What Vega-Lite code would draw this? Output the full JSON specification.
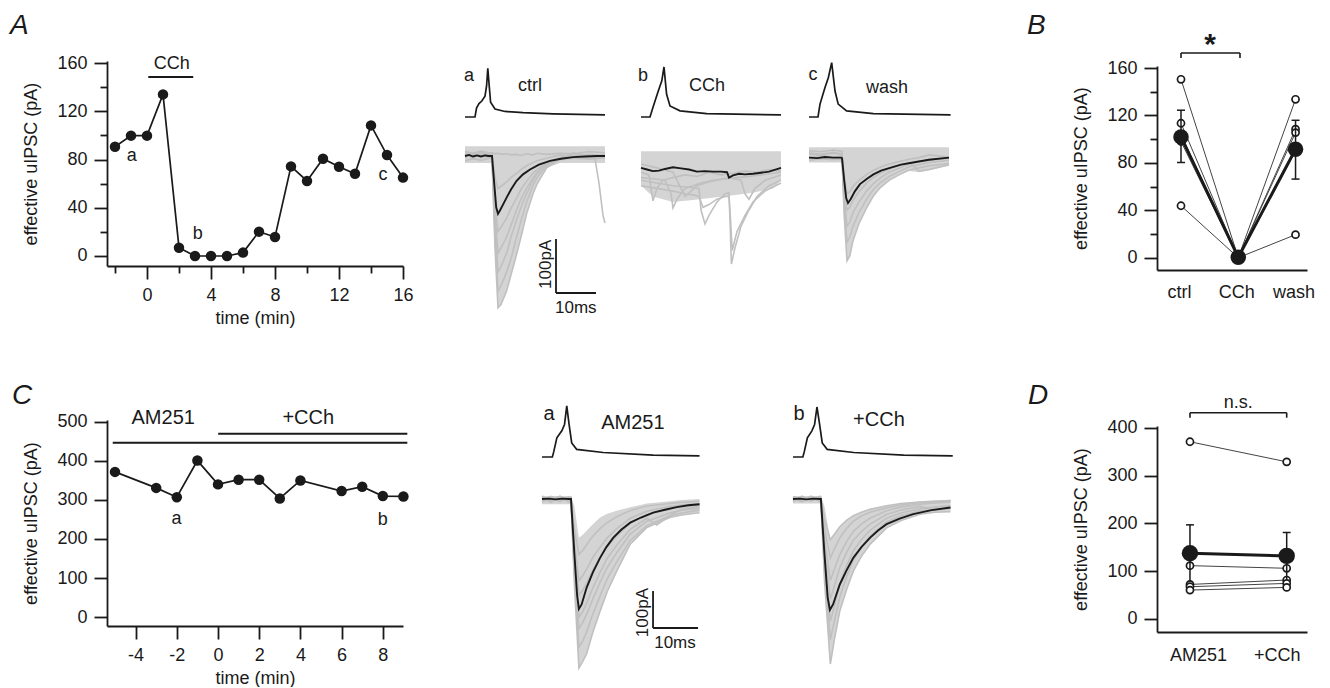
{
"$schema": "https://vega.github.io/schema/vega-lite/v6.json",
"padding": {"left": 10, "top": 11, "right": 0, "bottom": 0},
"background": "white",
"config": {
 "view": {"stroke": null},
 "font": "Liberation Sans",
 "axis": {"grid": false, "domainColor": "#1a1a1a", "domainWidth": 1.8, "tickColor": "#1a1a1a", "tickWidth": 1.8, "tickSize": 13, "labelFontSize": 18, "labelColor": "#1a1a1a", "labelPadding": 7, "labelFlush": false, "labelOverlap": false, "labelBound": false, "titleFontSize": 18, "titleFontWeight": "normal", "titleColor": "#1a1a1a", "labelFont": "Liberation Sans", "titleFont": "Liberation Sans"},
 "axisY": {"titlePadding": 16},
 "axisX": {"titlePadding": 5},
 "text": {"font": "Liberation Sans", "color": "#1a1a1a"}
},
"datasets": {
 "ta": [{"x":-2,"y":90.6},{"x":-1,"y":99.8},{"x":0,"y":99.8},{"x":1,"y":134},{"x":2,"y":6.9},{"x":3,"y":0},{"x":4,"y":0},{"x":5,"y":0},{"x":6,"y":2.8},{"x":7,"y":20.2},{"x":8,"y":15.8},{"x":9,"y":74.3},{"x":10,"y":62.2},{"x":11,"y":80.7},{"x":12,"y":74},{"x":13,"y":68.2},{"x":14,"y":108.3},{"x":15,"y":83.7},{"x":16,"y":65}],
 "tc": [{"x":-5,"y":372},{"x":-3,"y":331},{"x":-2,"y":307},{"x":-1,"y":401},{"x":0,"y":340},{"x":1,"y":352},{"x":2,"y":352},{"x":3,"y":304},{"x":4,"y":350},{"x":6,"y":323},{"x":7,"y":334},{"x":8,"y":310},{"x":9,"y":309}],
 "apA": [{"x":0,"y":-60},{"x":2.5,"y":-60},{"x":2.9,"y":-45},{"x":3.5,"y":-38},{"x":4.2,"y":-34},{"x":5.0,"y":-26},{"x":5.4,"y":-9},{"x":5.7,"y":19.5},{"x":6.0,"y":-5},{"x":6.4,"y":-36},{"x":7.5,"y":-47},{"x":10,"y":-51},{"x":14.5,"y":-53},{"x":22,"y":-55},{"x":35,"y":-56.7}],
 "apB": [{"x":0,"y":-60},{"x":2.25,"y":-60},{"x":3.1,"y":-42},{"x":4.3,"y":-18},{"x":5.2,"y":-1},{"x":5.75,"y":21.6},{"x":6.4,"y":-23},{"x":7.25,"y":-42},{"x":9.75,"y":-50},{"x":16.4,"y":-54.6},{"x":35,"y":-56.7}],
 "apW": [{"x":0,"y":-60},{"x":2.25,"y":-60},{"x":2.75,"y":-39},{"x":4.0,"y":-12},{"x":4.83,"y":4},{"x":5.67,"y":28.7},{"x":6.5,"y":-17.6},{"x":7.3,"y":-39},{"x":9.4,"y":-50},{"x":16.1,"y":-54.6},{"x":35.4,"y":-56.7}],
 "apM": [{"x":0,"y":-60},{"x":2.3,"y":-60},{"x":2.6,"y":-52},{"x":3.3,"y":-30},{"x":4.4,"y":-19},{"x":5.0,"y":-9},{"x":5.5,"y":20},{"x":6.0,"y":-8},{"x":6.6,"y":-38},{"x":7.7,"y":-48},{"x":13.6,"y":-53},{"x":24.7,"y":-57},{"x":35,"y":-58.4}],
 "apP": [{"x":0,"y":-60},{"x":2.2,"y":-60},{"x":2.5,"y":-52},{"x":3.2,"y":-30},{"x":4.2,"y":-19},{"x":4.8,"y":-9},{"x":5.33,"y":18.4},{"x":5.9,"y":-8},{"x":6.5,"y":-38},{"x":7.6,"y":-48},{"x":13.5,"y":-53},{"x":24.6,"y":-57},{"x":35.5,"y":-58.4}],
 "eA": [{"x":0,"y":-13,"y2":18},{"x":6.75,"y":-13,"y2":18},{"x":7.5,"y":-170,"y2":18},{"x":8.25,"y":-281,"y2":18},{"x":9,"y":-275,"y2":18},{"x":10.4,"y":-250,"y2":18},{"x":11.5,"y":-220,"y2":18},{"x":12.9,"y":-182,"y2":18},{"x":14,"y":-150,"y2":18},{"x":15.4,"y":-107,"y2":18},{"x":17,"y":-70,"y2":18},{"x":18,"y":-52,"y2":18},{"x":20.4,"y":-22,"y2":18},{"x":23.75,"y":-13,"y2":18},{"x":35,"y":-13,"y2":18}],
 "eB": [{"x":0,"y":-55,"y2":9},{"x":3,"y":-75,"y2":9},{"x":8,"y":-85,"y2":9},{"x":14.75,"y":-80,"y2":9},{"x":20.5,"y":-75,"y2":9},{"x":28,"y":-68,"y2":9},{"x":33,"y":-60,"y2":9},{"x":35,"y":-45,"y2":9}],
 "eW": [{"x":0,"y":-12,"y2":16},{"x":8.25,"y":-12,"y2":16},{"x":8.8,"y":-110,"y2":16},{"x":9.5,"y":-194,"y2":16},{"x":10.2,"y":-185,"y2":16},{"x":11,"y":-157,"y2":16},{"x":12.5,"y":-125,"y2":16},{"x":14.4,"y":-96,"y2":16},{"x":16,"y":-75,"y2":16},{"x":17.75,"y":-59,"y2":16},{"x":20,"y":-45,"y2":16},{"x":22.75,"y":-34,"y2":16},{"x":25,"y":-28,"y2":16},{"x":27.5,"y":-30,"y2":16},{"x":30,"y":-27,"y2":16},{"x":35,"y":-18,"y2":16}],
 "eM": [{"x":0,"y":-14,"y2":8},{"x":6.44,"y":-14,"y2":8},{"x":7.2,"y":-230,"y2":-20},{"x":8.2,"y":-457,"y2":-105},{"x":9,"y":-440,"y2":-97},{"x":9.9,"y":-419,"y2":-86},{"x":11.3,"y":-360,"y2":-68},{"x":12.9,"y":-303,"y2":-50},{"x":14.5,"y":-250,"y2":-40},{"x":16.6,"y":-195,"y2":-32},{"x":19.6,"y":-122,"y2":-22},{"x":23.3,"y":-77,"y2":-12},{"x":28.4,"y":-50,"y2":-6},{"x":31,"y":-43,"y2":-3},{"x":35,"y":-37,"y2":0}],
 "eP": [{"x":0,"y":-12,"y2":8},{"x":6.2,"y":-12,"y2":8},{"x":7.0,"y":-220,"y2":-20},{"x":8.3,"y":-446,"y2":-110},{"x":9.2,"y":-380,"y2":-95},{"x":10.4,"y":-303,"y2":-75},{"x":11.9,"y":-245,"y2":-58},{"x":13.4,"y":-195,"y2":-45},{"x":15.2,"y":-155,"y2":-36},{"x":17.1,"y":-123,"y2":-28},{"x":20.8,"y":-78,"y2":-18},{"x":24,"y":-58,"y2":-12},{"x":28.2,"y":-41,"y2":-6},{"x":31.5,"y":-36,"y2":-4},{"x":35,"y":-34,"y2":-2}],
 "kA": [{"x":0,"y":0},{"x":1,"y":2},{"x":2,"y":-1},{"x":3,"y":1},{"x":4,"y":-1},{"x":5,"y":1},{"x":6,"y":0},{"x":6.75,"y":0},{"x":7.3,"y":-50},{"x":7.8,"y":-95},{"x":8.25,"y":-107},{"x":8.8,"y":-100},{"x":9.5,"y":-90},{"x":10.4,"y":-77},{"x":11.5,"y":-62},{"x":12.9,"y":-46},{"x":14.5,"y":-34},{"x":16.25,"y":-25},{"x":18.5,"y":-16},{"x":21.25,"y":-9},{"x":24,"y":-5},{"x":27,"y":-2},{"x":30,"y":-1},{"x":33,"y":0},{"x":35,"y":0}],
 "kB": [{"x":0,"y":-22},{"x":1.5,"y":-25},{"x":3,"y":-28},{"x":4.5,"y":-27},{"x":6,"y":-24},{"x":8,"y":-21},{"x":10,"y":-23},{"x":12,"y":-25},{"x":14,"y":-29},{"x":16,"y":-28},{"x":18,"y":-29},{"x":20,"y":-29},{"x":21.5,"y":-30},{"x":22,"y":-40},{"x":23,"y":-36},{"x":24.5,"y":-33},{"x":26,"y":-34},{"x":28,"y":-33},{"x":30,"y":-31},{"x":32,"y":-29},{"x":35,"y":-22}],
 "kW": [{"x":0,"y":-3},{"x":2,"y":-4},{"x":4,"y":-2},{"x":6,"y":-3},{"x":8,"y":-3},{"x":8.25,"y":-4},{"x":8.8,"y":-45},{"x":9.3,"y":-78},{"x":9.75,"y":-87},{"x":10.4,"y":-80},{"x":11.5,"y":-65},{"x":12.75,"y":-52},{"x":14.5,"y":-42},{"x":16.1,"y":-34},{"x":18,"y":-27},{"x":20.25,"y":-22},{"x":23,"y":-16},{"x":26,"y":-12},{"x":30,"y":-7},{"x":35,"y":-3}],
 "kM": [{"x":0,"y":0},{"x":1.5,"y":1},{"x":3,"y":-1},{"x":4.5,"y":1},{"x":6,"y":0},{"x":6.44,"y":0},{"x":7.2,"y":-150},{"x":7.8,"y":-260},{"x":8.2,"y":-297},{"x":8.8,"y":-285},{"x":9.9,"y":-240},{"x":11.3,"y":-198},{"x":12.9,"y":-159},{"x":14.3,"y":-130},{"x":15.8,"y":-105},{"x":17.6,"y":-83},{"x":19.6,"y":-64},{"x":22,"y":-50},{"x":24.7,"y":-37},{"x":27.3,"y":-29},{"x":29.9,"y":-22},{"x":32.5,"y":-17},{"x":35,"y":-14}],
 "kP": [{"x":0,"y":0},{"x":1.5,"y":1},{"x":3,"y":-1},{"x":4.5,"y":1},{"x":6,"y":0},{"x":6.2,"y":0},{"x":7.0,"y":-150},{"x":7.7,"y":-265},{"x":8.2,"y":-300},{"x":8.9,"y":-285},{"x":10.4,"y":-231},{"x":11.9,"y":-193},{"x":13.4,"y":-159},{"x":15.2,"y":-130},{"x":17.1,"y":-105},{"x":18.9,"y":-85},{"x":20.8,"y":-68},{"x":23.7,"y":-53},{"x":26.7,"y":-41},{"x":30.8,"y":-30},{"x":35,"y":-23}],
 "gA": [
  {"g":1,"x":0,"y":5},{"g":1,"x":2,"y":-4},{"g":1,"x":4,"y":6},{"g":1,"x":6,"y":-3},{"g":1,"x":6.75,"y":-5},{"g":1,"x":7.5,"y":-170},{"g":1,"x":8.25,"y":-281},{"g":1,"x":9,"y":-275},{"g":1,"x":10.4,"y":-250},{"g":1,"x":11.5,"y":-220},{"g":1,"x":12.9,"y":-182},{"g":1,"x":14,"y":-150},{"g":1,"x":15.4,"y":-107},{"g":1,"x":17,"y":-70},{"g":1,"x":18,"y":-52},{"g":1,"x":20.4,"y":-22},{"g":1,"x":23.75,"y":-6},{"g":1,"x":27,"y":3},{"g":1,"x":31,"y":-4},{"g":1,"x":35,"y":2},
  {"g":2,"x":0,"y":-4},{"g":2,"x":2,"y":6},{"g":2,"x":4,"y":-2},{"g":2,"x":6,"y":4},{"g":2,"x":6.75,"y":0},{"g":2,"x":7.5,"y":-150},{"g":2,"x":8.25,"y":-250},{"g":2,"x":9,"y":-240},{"g":2,"x":10.4,"y":-215},{"g":2,"x":11.5,"y":-190},{"g":2,"x":12.9,"y":-150},{"g":2,"x":14,"y":-120},{"g":2,"x":15.4,"y":-85},{"g":2,"x":17,"y":-55},{"g":2,"x":18,"y":-40},{"g":2,"x":20.4,"y":-18},{"g":2,"x":23.75,"y":-4},{"g":2,"x":27,"y":6},{"g":2,"x":31,"y":-2},{"g":2,"x":35,"y":-3},
  {"g":3,"x":0,"y":9},{"g":3,"x":2,"y":4},{"g":3,"x":4,"y":8},{"g":3,"x":6,"y":2},{"g":3,"x":6.75,"y":3},{"g":3,"x":7.5,"y":-130},{"g":3,"x":8.25,"y":-215},{"g":3,"x":9,"y":-205},{"g":3,"x":10.4,"y":-180},{"g":3,"x":11.5,"y":-150},{"g":3,"x":12.9,"y":-118},{"g":3,"x":14,"y":-95},{"g":3,"x":15.4,"y":-70},{"g":3,"x":17,"y":-45},{"g":3,"x":18,"y":-33},{"g":3,"x":20.4,"y":-15},{"g":3,"x":23.75,"y":-4},{"g":3,"x":27,"y":4},{"g":3,"x":31,"y":8},{"g":3,"x":35,"y":6},
  {"g":4,"x":0,"y":-9},{"g":4,"x":2,"y":-5},{"g":4,"x":4,"y":-8},{"g":4,"x":6,"y":-4},{"g":4,"x":6.75,"y":-3},{"g":4,"x":7.5,"y":-110},{"g":4,"x":8.25,"y":-180},{"g":4,"x":9,"y":-170},{"g":4,"x":10.4,"y":-150},{"g":4,"x":11.5,"y":-128},{"g":4,"x":12.9,"y":-100},{"g":4,"x":14,"y":-80},{"g":4,"x":15.4,"y":-60},{"g":4,"x":17,"y":-40},{"g":4,"x":18,"y":-30},{"g":4,"x":20.4,"y":-14},{"g":4,"x":23.75,"y":-7},{"g":4,"x":27,"y":-4},{"g":4,"x":31,"y":-6},{"g":4,"x":35,"y":-3},
  {"g":5,"x":0,"y":2},{"g":5,"x":2,"y":-2},{"g":5,"x":4,"y":4},{"g":5,"x":6,"y":-1},{"g":5,"x":6.75,"y":-2},{"g":5,"x":7.5,"y":-90},{"g":5,"x":8.25,"y":-140},{"g":5,"x":9,"y":-132},{"g":5,"x":10.4,"y":-115},{"g":5,"x":11.5,"y":-97},{"g":5,"x":12.9,"y":-78},{"g":5,"x":14,"y":-62},{"g":5,"x":15.4,"y":-47},{"g":5,"x":17,"y":-32},{"g":5,"x":18,"y":-25},{"g":5,"x":20.4,"y":-12},{"g":5,"x":23.75,"y":-3},{"g":5,"x":27,"y":-1},{"g":5,"x":31,"y":3},{"g":5,"x":35,"y":1},
  {"g":6,"x":0,"y":-2},{"g":6,"x":2,"y":3},{"g":6,"x":4,"y":-3},{"g":6,"x":6,"y":2},{"g":6,"x":6.75,"y":4},{"g":6,"x":7.5,"y":-40},{"g":6,"x":8.25,"y":-60},{"g":6,"x":9,"y":-56},{"g":6,"x":10.4,"y":-48},{"g":6,"x":11.5,"y":-40},{"g":6,"x":12.9,"y":-32},{"g":6,"x":14,"y":-25},{"g":6,"x":15.4,"y":-18},{"g":6,"x":17,"y":-12},{"g":6,"x":18,"y":-9},{"g":6,"x":20.4,"y":-4},{"g":6,"x":23.75,"y":2},{"g":6,"x":27,"y":-2},{"g":6,"x":31,"y":-5},{"g":6,"x":35,"y":3},
  {"g":7,"x":0,"y":7},{"g":7,"x":2,"y":5},{"g":7,"x":4,"y":9},{"g":7,"x":6,"y":6},{"g":7,"x":6.75,"y":6},{"g":7,"x":7.5,"y":4},{"g":7,"x":8.25,"y":5},{"g":7,"x":9,"y":3},{"g":7,"x":10.4,"y":4},{"g":7,"x":11.5,"y":2},{"g":7,"x":12.9,"y":3},{"g":7,"x":14,"y":1},{"g":7,"x":15.4,"y":4},{"g":7,"x":17,"y":2},{"g":7,"x":18,"y":5},{"g":7,"x":20.4,"y":3},{"g":7,"x":23.75,"y":5},{"g":7,"x":27,"y":4},{"g":7,"x":31,"y":2},{"g":7,"x":32.5,"y":-5},{"g":7,"x":33.5,"y":-50},{"g":7,"x":34.5,"y":-110},{"g":7,"x":35,"y":-124}
 ],
 "gB": [
  {"g":3,"x":0,"y":-30},{"g":3,"x":2,"y":-35},{"g":3,"x":2.5,"y":-60},{"g":3,"x":3,"y":-83},{"g":3,"x":4,"y":-60},{"g":3,"x":5.5,"y":-45},{"g":3,"x":8,"y":-40},{"g":3,"x":11,"y":-35},{"g":3,"x":14,"y":-38},{"g":3,"x":17,"y":-30},{"g":3,"x":20,"y":-35},{"g":3,"x":23,"y":-32},{"g":3,"x":26,"y":-28},{"g":3,"x":29,"y":-30},{"g":3,"x":32,"y":-25},{"g":3,"x":35,"y":-28},
  {"g":4,"x":0,"y":-40},{"g":4,"x":3,"y":-42},{"g":4,"x":6,"y":-45},{"g":4,"x":7.5,"y":-70},{"g":4,"x":8,"y":-96},{"g":4,"x":9,"y":-80},{"g":4,"x":11,"y":-60},{"g":4,"x":13,"y":-55},{"g":4,"x":15,"y":-50},{"g":4,"x":18,"y":-45},{"g":4,"x":21,"y":-42},{"g":4,"x":24,"y":-40},{"g":4,"x":27,"y":-38},{"g":4,"x":30,"y":-35},{"g":4,"x":35,"y":-30},
  {"g":5,"x":0,"y":-45},{"g":5,"x":4,"y":-50},{"g":5,"x":8,"y":-55},{"g":5,"x":12,"y":-58},{"g":5,"x":14.5,"y":-60},{"g":5,"x":15,"y":-100},{"g":5,"x":16,"y":-126},{"g":5,"x":17,"y":-110},{"g":5,"x":19,"y":-85},{"g":5,"x":21,"y":-70},{"g":5,"x":22,"y":-68},{"g":5,"x":22.3,"y":-130},{"g":5,"x":22.6,"y":-200},{"g":5,"x":23.5,"y":-170},{"g":5,"x":25,"y":-130},{"g":5,"x":27,"y":-100},{"g":5,"x":29,"y":-75},{"g":5,"x":32,"y":-55},{"g":5,"x":35,"y":-45},
  {"g":6,"x":0,"y":-55},{"g":6,"x":4,"y":-60},{"g":6,"x":8,"y":-65},{"g":6,"x":11,"y":-70},{"g":6,"x":13,"y":-72},{"g":6,"x":14.5,"y":-75},{"g":6,"x":15.5,"y":-95},{"g":6,"x":17,"y":-90},{"g":6,"x":19,"y":-80},{"g":6,"x":21,"y":-75},{"g":6,"x":22,"y":-75},{"g":6,"x":22.4,"y":-120},{"g":6,"x":22.8,"y":-175},{"g":6,"x":24,"y":-140},{"g":6,"x":26,"y":-110},{"g":6,"x":28,"y":-85},{"g":6,"x":31,"y":-65},{"g":6,"x":35,"y":-50},
  {"g":7,"x":0,"y":-15},{"g":7,"x":4,"y":-22},{"g":7,"x":8,"y":-30},{"g":7,"x":10,"y":-60},{"g":7,"x":11,"y":-75},{"g":7,"x":12.5,"y":-65},{"g":7,"x":14,"y":-55},{"g":7,"x":16,"y":-50},{"g":7,"x":19,"y":-45},{"g":7,"x":22,"y":-40},{"g":7,"x":25,"y":-45},{"g":7,"x":26,"y":-70},{"g":7,"x":27,"y":-80},{"g":7,"x":28.5,"y":-60},{"g":7,"x":31,"y":-45},{"g":7,"x":35,"y":-35}
 ],
 "gW": [
  {"g":1,"x":0,"y":4},{"g":1,"x":3,"y":2},{"g":1,"x":6,"y":5},{"g":1,"x":8.25,"y":3},{"g":1,"x":8.8,"y":-110},{"g":1,"x":9.5,"y":-194},{"g":1,"x":10.2,"y":-185},{"g":1,"x":11,"y":-157},{"g":1,"x":12.5,"y":-125},{"g":1,"x":14.4,"y":-96},{"g":1,"x":16,"y":-75},{"g":1,"x":17.75,"y":-59},{"g":1,"x":20,"y":-45},{"g":1,"x":22.75,"y":-34},{"g":1,"x":25,"y":-26},{"g":1,"x":27.5,"y":-22},{"g":1,"x":30,"y":-18},{"g":1,"x":35,"y":-14},
  {"g":2,"x":0,"y":-8},{"g":2,"x":3,"y":-5},{"g":2,"x":6,"y":-7},{"g":2,"x":8.25,"y":-6},{"g":2,"x":8.8,"y":-95},{"g":2,"x":9.5,"y":-160},{"g":2,"x":10.2,"y":-150},{"g":2,"x":11,"y":-130},{"g":2,"x":12.5,"y":-105},{"g":2,"x":14.4,"y":-80},{"g":2,"x":16,"y":-63},{"g":2,"x":17.75,"y":-50},{"g":2,"x":20,"y":-38},{"g":2,"x":22.75,"y":-28},{"g":2,"x":25,"y":-20},{"g":2,"x":27.5,"y":-16},{"g":2,"x":30,"y":-12},{"g":2,"x":35,"y":-8},
  {"g":3,"x":0,"y":10},{"g":3,"x":3,"y":8},{"g":3,"x":6,"y":11},{"g":3,"x":8.25,"y":9},{"g":3,"x":8.8,"y":-80},{"g":3,"x":9.5,"y":-130},{"g":3,"x":10.2,"y":-122},{"g":3,"x":11,"y":-105},{"g":3,"x":12.5,"y":-85},{"g":3,"x":14.4,"y":-65},{"g":3,"x":16,"y":-52},{"g":3,"x":17.75,"y":-41},{"g":3,"x":20,"y":-30},{"g":3,"x":22.75,"y":-22},{"g":3,"x":25,"y":-15},{"g":3,"x":27.5,"y":-10},{"g":3,"x":30,"y":-8},{"g":3,"x":35,"y":-4},
  {"g":4,"x":0,"y":-2},{"g":4,"x":3,"y":1},{"g":4,"x":6,"y":-3},{"g":4,"x":8.25,"y":0},{"g":4,"x":8.8,"y":-60},{"g":4,"x":9.5,"y":-100},{"g":4,"x":10.2,"y":-95},{"g":4,"x":11,"y":-82},{"g":4,"x":12.5,"y":-66},{"g":4,"x":14.4,"y":-50},{"g":4,"x":16,"y":-40},{"g":4,"x":17.75,"y":-32},{"g":4,"x":20,"y":-24},{"g":4,"x":22.75,"y":-17},{"g":4,"x":25,"y":-12},{"g":4,"x":27.5,"y":-28},{"g":4,"x":30,"y":-25},{"g":4,"x":35,"y":-16},
  {"g":5,"x":0,"y":6},{"g":5,"x":3,"y":3},{"g":5,"x":6,"y":7},{"g":5,"x":8.25,"y":4},{"g":5,"x":8.8,"y":-40},{"g":5,"x":9.5,"y":-70},{"g":5,"x":10.2,"y":-66},{"g":5,"x":11,"y":-56},{"g":5,"x":12.5,"y":-45},{"g":5,"x":14.4,"y":-34},{"g":5,"x":16,"y":-27},{"g":5,"x":17.75,"y":-21},{"g":5,"x":20,"y":-15},{"g":5,"x":22.75,"y":-10},{"g":5,"x":25,"y":-6},{"g":5,"x":27.5,"y":-3},{"g":5,"x":30,"y":2},{"g":5,"x":35,"y":-2}
 ],
 "gM": [
  {"g":1,"x":0,"y":3},{"g":1,"x":2,"y":-5},{"g":1,"x":4,"y":6},{"g":1,"x":6,"y":-2},{"g":1,"x":6.44,"y":0},{"g":1,"x":7.2,"y":-230},{"g":1,"x":8.2,"y":-457},{"g":1,"x":9,"y":-440},{"g":1,"x":9.9,"y":-419},{"g":1,"x":11.3,"y":-360},{"g":1,"x":12.9,"y":-303},{"g":1,"x":14.5,"y":-250},{"g":1,"x":16.6,"y":-195},{"g":1,"x":19.6,"y":-122},{"g":1,"x":23.3,"y":-77},{"g":1,"x":28.4,"y":-50},{"g":1,"x":31,"y":-43},{"g":1,"x":35,"y":-37},
  {"g":2,"x":0,"y":-6},{"g":2,"x":2,"y":4},{"g":2,"x":4,"y":-3},{"g":2,"x":6,"y":5},{"g":2,"x":6.44,"y":-2},{"g":2,"x":7.2,"y":-200},{"g":2,"x":8.2,"y":-400},{"g":2,"x":9,"y":-385},{"g":2,"x":9.9,"y":-360},{"g":2,"x":11.3,"y":-310},{"g":2,"x":12.9,"y":-262},{"g":2,"x":14.5,"y":-215},{"g":2,"x":16.6,"y":-170},{"g":2,"x":19.6,"y":-112},{"g":2,"x":23.3,"y":-72},{"g":2,"x":28.4,"y":-45},{"g":2,"x":31,"y":-38},{"g":2,"x":35,"y":-30},
  {"g":3,"x":0,"y":5},{"g":3,"x":2,"y":-2},{"g":3,"x":4,"y":8},{"g":3,"x":6,"y":-6},{"g":3,"x":6.44,"y":3},{"g":3,"x":7.2,"y":-180},{"g":3,"x":8.2,"y":-350},{"g":3,"x":9,"y":-335},{"g":3,"x":9.9,"y":-312},{"g":3,"x":11.3,"y":-270},{"g":3,"x":12.9,"y":-225},{"g":3,"x":14.5,"y":-185},{"g":3,"x":16.6,"y":-145},{"g":3,"x":19.6,"y":-95},{"g":3,"x":23.3,"y":-60},{"g":3,"x":28.4,"y":-38},{"g":3,"x":31,"y":-30},{"g":3,"x":35,"y":-25},
  {"g":4,"x":0,"y":-3},{"g":4,"x":2,"y":7},{"g":4,"x":4,"y":-5},{"g":4,"x":6,"y":2},{"g":4,"x":6.44,"y":-4},{"g":4,"x":7.2,"y":-165},{"g":4,"x":8.2,"y":-320},{"g":4,"x":9,"y":-305},{"g":4,"x":9.9,"y":-282},{"g":4,"x":11.3,"y":-240},{"g":4,"x":12.9,"y":-198},{"g":4,"x":14.5,"y":-160},{"g":4,"x":16.6,"y":-125},{"g":4,"x":19.6,"y":-82},{"g":4,"x":23.3,"y":-52},{"g":4,"x":25.5,"y":-70},{"g":4,"x":28.4,"y":-45},{"g":4,"x":31,"y":-28},{"g":4,"x":35,"y":-20},
  {"g":5,"x":0,"y":8},{"g":5,"x":2,"y":-6},{"g":5,"x":4,"y":3},{"g":5,"x":6,"y":-8},{"g":5,"x":6.44,"y":5},{"g":5,"x":7.2,"y":-135},{"g":5,"x":8.2,"y":-260},{"g":5,"x":9,"y":-248},{"g":5,"x":9.9,"y":-228},{"g":5,"x":11.3,"y":-192},{"g":5,"x":12.9,"y":-158},{"g":5,"x":14.5,"y":-128},{"g":5,"x":16.6,"y":-100},{"g":5,"x":19.6,"y":-65},{"g":5,"x":23.3,"y":-42},{"g":5,"x":28.4,"y":-27},{"g":5,"x":31,"y":-22},{"g":5,"x":35,"y":-16},
  {"g":6,"x":0,"y":-8},{"g":6,"x":2,"y":2},{"g":6,"x":4,"y":-7},{"g":6,"x":6,"y":6},{"g":6,"x":6.44,"y":-6},{"g":6,"x":7.2,"y":-115},{"g":6,"x":8.2,"y":-220},{"g":6,"x":9,"y":-208},{"g":6,"x":9.9,"y":-190},{"g":6,"x":11.3,"y":-158},{"g":6,"x":12.9,"y":-130},{"g":6,"x":14.5,"y":-105},{"g":6,"x":16.6,"y":-80},{"g":6,"x":19.6,"y":-52},{"g":6,"x":23.3,"y":-33},{"g":6,"x":28.4,"y":-20},{"g":6,"x":31,"y":-16},{"g":6,"x":35,"y":-12},
  {"g":7,"x":0,"y":2},{"g":7,"x":2,"y":-9},{"g":7,"x":4,"y":5},{"g":7,"x":6,"y":-4},{"g":7,"x":6.44,"y":1},{"g":7,"x":7.2,"y":-80},{"g":7,"x":8.2,"y":-150},{"g":7,"x":9,"y":-140},{"g":7,"x":9.9,"y":-124},{"g":7,"x":11.3,"y":-100},{"g":7,"x":12.9,"y":-80},{"g":7,"x":14.5,"y":-64},{"g":7,"x":16.6,"y":-48},{"g":7,"x":19.6,"y":-31},{"g":7,"x":23.3,"y":-19},{"g":7,"x":28.4,"y":-12},{"g":7,"x":31,"y":-9},{"g":7,"x":35,"y":-6}
 ],
 "gP": [
  {"g":1,"x":0,"y":4},{"g":1,"x":2,"y":-6},{"g":1,"x":4,"y":3},{"g":1,"x":6,"y":-5},{"g":1,"x":6.2,"y":0},{"g":1,"x":7.0,"y":-220},{"g":1,"x":8.3,"y":-446},{"g":1,"x":9.2,"y":-380},{"g":1,"x":10.4,"y":-303},{"g":1,"x":11.9,"y":-245},{"g":1,"x":13.4,"y":-195},{"g":1,"x":15.2,"y":-155},{"g":1,"x":17.1,"y":-123},{"g":1,"x":20.8,"y":-78},{"g":1,"x":24,"y":-58},{"g":1,"x":28.2,"y":-41},{"g":1,"x":31.5,"y":-36},{"g":1,"x":35,"y":-34},
  {"g":2,"x":0,"y":-5},{"g":2,"x":2,"y":6},{"g":2,"x":4,"y":-4},{"g":2,"x":6,"y":3},{"g":2,"x":6.2,"y":-3},{"g":2,"x":7.0,"y":-190},{"g":2,"x":8.3,"y":-380},{"g":2,"x":9.2,"y":-330},{"g":2,"x":10.4,"y":-265},{"g":2,"x":11.9,"y":-210},{"g":2,"x":13.4,"y":-165},{"g":2,"x":15.2,"y":-130},{"g":2,"x":17.1,"y":-100},{"g":2,"x":20.8,"y":-62},{"g":2,"x":24,"y":-45},{"g":2,"x":28.2,"y":-32},{"g":2,"x":31.5,"y":-28},{"g":2,"x":35,"y":-25},
  {"g":3,"x":0,"y":7},{"g":3,"x":2,"y":-3},{"g":3,"x":4,"y":5},{"g":3,"x":6,"y":-7},{"g":3,"x":6.2,"y":4},{"g":3,"x":7.0,"y":-165},{"g":3,"x":8.3,"y":-330},{"g":3,"x":9.2,"y":-290},{"g":3,"x":10.4,"y":-230},{"g":3,"x":11.9,"y":-180},{"g":3,"x":13.4,"y":-140},{"g":3,"x":15.2,"y":-110},{"g":3,"x":17.1,"y":-85},{"g":3,"x":20.8,"y":-52},{"g":3,"x":24,"y":-38},{"g":3,"x":28.2,"y":-26},{"g":3,"x":31.5,"y":-22},{"g":3,"x":35,"y":-18},
  {"g":4,"x":0,"y":-4},{"g":4,"x":2,"y":8},{"g":4,"x":4,"y":-6},{"g":4,"x":6,"y":5},{"g":4,"x":6.2,"y":-2},{"g":4,"x":7.0,"y":-135},{"g":4,"x":8.3,"y":-270},{"g":4,"x":9.2,"y":-235},{"g":4,"x":10.4,"y":-185},{"g":4,"x":11.9,"y":-145},{"g":4,"x":13.4,"y":-112},{"g":4,"x":15.2,"y":-88},{"g":4,"x":17.1,"y":-68},{"g":4,"x":20.8,"y":-42},{"g":4,"x":24,"y":-30},{"g":4,"x":28.2,"y":-20},{"g":4,"x":31.5,"y":-30},{"g":4,"x":35,"y":-25},
  {"g":5,"x":0,"y":6},{"g":5,"x":2,"y":-5},{"g":5,"x":4,"y":8},{"g":5,"x":6,"y":-3},{"g":5,"x":6.2,"y":2},{"g":5,"x":7.0,"y":-110},{"g":5,"x":8.3,"y":-220},{"g":5,"x":9.2,"y":-190},{"g":5,"x":10.4,"y":-150},{"g":5,"x":11.9,"y":-115},{"g":5,"x":13.4,"y":-88},{"g":5,"x":15.2,"y":-68},{"g":5,"x":17.1,"y":-52},{"g":5,"x":20.8,"y":-32},{"g":5,"x":24,"y":-22},{"g":5,"x":28.2,"y":-14},{"g":5,"x":31.5,"y":-11},{"g":5,"x":35,"y":-8},
  {"g":6,"x":0,"y":-7},{"g":6,"x":2,"y":3},{"g":6,"x":4,"y":-2},{"g":6,"x":6,"y":7},{"g":6,"x":6.2,"y":-5},{"g":6,"x":7.0,"y":-80},{"g":6,"x":8.3,"y":-160},{"g":6,"x":9.2,"y":-135},{"g":6,"x":10.4,"y":-105},{"g":6,"x":11.9,"y":-80},{"g":6,"x":13.4,"y":-60},{"g":6,"x":15.2,"y":-46},{"g":6,"x":17.1,"y":-36},{"g":6,"x":20.8,"y":-24},{"g":6,"x":24,"y":-16},{"g":6,"x":28.2,"y":-10},{"g":6,"x":31.5,"y":-8},{"g":6,"x":35,"y":-5},
  {"g":7,"x":0,"y":2},{"g":7,"x":2,"y":-8},{"g":7,"x":4,"y":6},{"g":7,"x":6,"y":-4},{"g":7,"x":6.2,"y":3},{"g":7,"x":7.0,"y":-55},{"g":7,"x":8.3,"y":-110},{"g":7,"x":9.2,"y":-95},{"g":7,"x":10.4,"y":-75},{"g":7,"x":11.9,"y":-58},{"g":7,"x":13.4,"y":-45},{"g":7,"x":15.2,"y":-36},{"g":7,"x":17.1,"y":-28},{"g":7,"x":20.8,"y":-18},{"g":7,"x":24,"y":-12},{"g":7,"x":28.2,"y":-8},{"g":7,"x":31.5,"y":-6},{"g":7,"x":35,"y":-4}
 ],
 "bc": [
  {"g":1,"x":0,"y":150.5},{"g":1,"x":1,"y":0},{"g":1,"x":2,"y":133.6},
  {"g":2,"x":0,"y":113.4},{"g":2,"x":1,"y":0},{"g":2,"x":2,"y":108.4},
  {"g":3,"x":0,"y":104},{"g":3,"x":1,"y":0},{"g":3,"x":2,"y":105.5},
  {"g":4,"x":0,"y":98},{"g":4,"x":1,"y":0},{"g":4,"x":2,"y":90},
  {"g":5,"x":0,"y":43.8},{"g":5,"x":1,"y":0},{"g":5,"x":2,"y":19.4}
 ],
 "bm": [{"x":0,"y":101.9},{"x":1,"y":0.3},{"x":2,"y":91.5}],
 "dc": [
  {"g":1,"x":0,"y":371},{"g":1,"x":1,"y":329},
  {"g":2,"x":0,"y":111.6},{"g":2,"x":1,"y":106},
  {"g":3,"x":0,"y":72.2},{"g":3,"x":1,"y":81.4},
  {"g":4,"x":0,"y":67.4},{"g":4,"x":1,"y":74.4},
  {"g":5,"x":0,"y":60.4},{"g":5,"x":1,"y":66}
 ],
 "dm": [{"x":0,"y":137.5},{"x":1,"y":132}]
},
"bounds": "flush",
"spacing": 359,
"vconcat": [
 {
  "bounds": "flush",
  "spacing": 0,
  "hconcat": [
   {
    "width": 296, "height": 205,
    "encoding": {
     "x": {"field": "x", "type": "quantitative", "scale": {"domain": [-2.5, 16]}, "axis": {"values": [-2,0,2,4,6,8,10,12,14,16], "labelExpr": "datum.value % 4 === 0 ? datum.label : ''", "tickSize": {"condition": {"test": "datum.value % 4 !== 0", "value": 7}, "value": 13}, "title": "time (min)"}},
     "y": {"field": "y", "type": "quantitative", "scale": {"domain": [-8.3, 161.7]}, "axis": {"values": [0,20,40,60,80,100,120,140,160], "labelExpr": "datum.value % 40 === 0 ? datum.label : ''", "tickSize": {"condition": {"test": "datum.value % 40 !== 0", "value": 7}, "value": 13}, "title": "effective uIPSC (pA)"}}
    },
    "layer": [
     {"data": {"name": "ta"}, "mark": {"type": "line", "color": "#1a1a1a", "strokeWidth": 1.7}},
     {"data": {"name": "ta"}, "mark": {"type": "circle", "color": "#1a1a1a", "size": 110, "opacity": 1}},
     {"data": {"values": [{"x": 0.08, "x2": 2.89, "y": 148.4}]}, "mark": {"type": "rule", "strokeWidth": 2, "color": "#1a1a1a"}, "encoding": {"x2": {"field": "x2"}}},
     {"data": {"values": [{"x": 1.54, "y": 158.9, "s": "CCh"}, {"x": -0.96, "y": 82.9, "s": "a"}, {"x": 3.17, "y": 17.9, "s": "b"}, {"x": 14.75, "y": 67.2, "s": "c"}]}, "mark": {"type": "text", "fontSize": 18, "baseline": "middle", "align": "center"}, "encoding": {"text": {"field": "s"}}},
     {"data": {"values": [{"x": -8.56, "y": 184.1, "s": "A"}]}, "mark": {"type": "text", "fontSize": 28, "fontStyle": "italic", "align": "left", "baseline": "alphabetic"}, "encoding": {"text": {"field": "s"}}}
    ]
   },
   {
    "width": 220, "height": 205,
    "encoding": {"x": {"field": "x", "type": "quantitative", "scale": {"domain": [-15.5, 39.5]}, "axis": null}},
    "layer": [
     {"data": {"name": "eA"}, "mark": {"type": "area", "color": "#d4d4d4", "opacity": 1}, "encoding": {"y": {"field": "y", "type": "quantitative", "scale": {"domain": [-203.7, 175.9]}, "axis": null}, "y2": {"field": "y2"}}},
     {"data": {"name": "gA"}, "mark": {"type": "line", "color": "#c0c0c0", "strokeWidth": 1.6}, "encoding": {"y": {"field": "y", "type": "quantitative", "scale": {"domain": [-203.7, 175.9]}, "axis": null}, "detail": {"field": "g"}}},
     {"data": {"name": "kA"}, "mark": {"type": "line", "color": "#1a1a1a", "strokeWidth": 1.9}, "encoding": {"y": {"field": "y", "type": "quantitative", "scale": {"domain": [-203.7, 175.9]}, "axis": null}}},
     {"data": {"values": [{"x": 22.75, "x2": 22.75, "y": -153.7, "y2": -253.7}, {"x": 22.75, "x2": 32.75, "y": -253.7, "y2": -253.7}]}, "mark": {"type": "rule", "strokeWidth": 1.8, "color": "#1a1a1a"}, "encoding": {"y": {"field": "y", "type": "quantitative", "scale": {"domain": [-203.7, 175.9]}, "axis": null}, "x2": {"field": "x2"}, "y2": {"field": "y2"}}},
     {"data": {"values": [{"x": 20.25, "y": -200.6, "s": "100pA"}]}, "mark": {"type": "text", "fontSize": 17, "angle": 270, "baseline": "middle", "align": "center"}, "encoding": {"y": {"field": "y", "type": "quantitative", "scale": {"domain": [-203.7, 175.9]}, "axis": null}, "text": {"field": "s"}}},
     {"data": {"values": [{"x": 27.7, "y": -281, "s": "10ms"}]}, "mark": {"type": "text", "fontSize": 17, "baseline": "middle", "align": "center"}, "encoding": {"y": {"field": "y", "type": "quantitative", "scale": {"domain": [-203.7, 175.9]}, "axis": null}, "text": {"field": "s"}}},
     {"data": {"name": "apA"}, "mark": {"type": "line", "color": "#1a1a1a", "strokeWidth": 1.7}, "encoding": {"y": {"field": "y", "type": "quantitative", "scale": {"domain": [-303.3, 31.4]}, "axis": null}}},
     {"data": {"values": [{"x": 1.0, "y": 6.9, "s": "a"}, {"x": 16.25, "y": -9.4, "s": "ctrl"}]}, "mark": {"type": "text", "fontSize": 18, "baseline": "middle", "align": "center"}, "encoding": {"y": {"field": "y", "type": "quantitative", "scale": {"domain": [-303.3, 31.4]}, "axis": null}, "text": {"field": "s"}}}
    ],
    "resolve": {"scale": {"y": "independent"}}
   },
   {
    "width": 172, "height": 205,
    "encoding": {"x": {"field": "x", "type": "quantitative", "scale": {"domain": [-4.5, 38.5]}, "axis": null}},
    "layer": [
     {"data": {"name": "eB"}, "mark": {"type": "area", "color": "#d4d4d4", "opacity": 1}, "encoding": {"y": {"field": "y", "type": "quantitative", "scale": {"domain": [-203.7, 175.9]}, "axis": null}, "y2": {"field": "y2"}}},
     {"data": {"name": "gB"}, "mark": {"type": "line", "color": "#c0c0c0", "strokeWidth": 1.6}, "encoding": {"y": {"field": "y", "type": "quantitative", "scale": {"domain": [-203.7, 175.9]}, "axis": null}, "detail": {"field": "g"}}},
     {"data": {"name": "kB"}, "mark": {"type": "line", "color": "#1a1a1a", "strokeWidth": 1.9}, "encoding": {"y": {"field": "y", "type": "quantitative", "scale": {"domain": [-203.7, 175.9]}, "axis": null}}},
     {"data": {"name": "apB"}, "mark": {"type": "line", "color": "#1a1a1a", "strokeWidth": 1.7}, "encoding": {"y": {"field": "y", "type": "quantitative", "scale": {"domain": [-303.3, 31.4]}, "axis": null}}},
     {"data": {"values": [{"x": 0.5, "y": 6.9, "s": "b"}, {"x": 16.5, "y": -9.4, "s": "CCh"}]}, "mark": {"type": "text", "fontSize": 18, "baseline": "middle", "align": "center"}, "encoding": {"y": {"field": "y", "type": "quantitative", "scale": {"domain": [-303.3, 31.4]}, "axis": null}, "text": {"field": "s"}}}
    ],
    "resolve": {"scale": {"y": "independent"}}
   },
   {
    "width": 362, "height": 205,
    "encoding": {"x": {"field": "x", "type": "quantitative", "scale": {"domain": [-3.5, 87]}, "axis": null}},
    "layer": [
     {"data": {"name": "eW"}, "mark": {"type": "area", "color": "#d4d4d4", "opacity": 1}, "encoding": {"y": {"field": "y", "type": "quantitative", "scale": {"domain": [-203.7, 175.9]}, "axis": null}, "y2": {"field": "y2"}}},
     {"data": {"name": "gW"}, "mark": {"type": "line", "color": "#c0c0c0", "strokeWidth": 1.6}, "encoding": {"y": {"field": "y", "type": "quantitative", "scale": {"domain": [-203.7, 175.9]}, "axis": null}, "detail": {"field": "g"}}},
     {"data": {"name": "kW"}, "mark": {"type": "line", "color": "#1a1a1a", "strokeWidth": 1.9}, "encoding": {"y": {"field": "y", "type": "quantitative", "scale": {"domain": [-203.7, 175.9]}, "axis": null}}},
     {"data": {"name": "apW"}, "mark": {"type": "line", "color": "#1a1a1a", "strokeWidth": 1.7}, "encoding": {"y": {"field": "y", "type": "quantitative", "scale": {"domain": [-303.3, 31.4]}, "axis": null}}},
     {"data": {"values": [{"x": 1.0, "y": 8.6, "s": "c"}, {"x": 19.5, "y": -12.7, "s": "wash"}]}, "mark": {"type": "text", "fontSize": 18, "baseline": "middle", "align": "center"}, "encoding": {"y": {"field": "y", "type": "quantitative", "scale": {"domain": [-303.3, 31.4]}, "axis": null}, "text": {"field": "s"}}}
    ],
    "resolve": {"scale": {"y": "independent"}}
   },
   {
    "width": 150, "height": 209,
    "encoding": {
     "x": {"field": "x", "type": "quantitative", "scale": {"domain": [-0.419, 2.2]}, "axis": {"values": [0,1,2], "ticks": false, "tickSize": 0, "labelPadding": 13, "labelOffset": -2, "labelExpr": "datum.value === 0 ? 'ctrl' : datum.value === 1 ? 'CCh' : 'wash'", "title": null}},
     "y": {"field": "y", "type": "quantitative", "scale": {"domain": [-10.4, 161.7], "range": [209, 5]}, "axis": {"values": [0,20,40,60,80,100,120,140,160], "labelExpr": "datum.value % 40 === 0 ? datum.label : ''", "tickSize": {"condition": {"test": "datum.value % 40 !== 0", "value": 7}, "value": 13}, "title": "effective uIPSC (pA)"}}
    },
    "layer": [
     {"data": {"name": "bc"}, "mark": {"type": "line", "color": "#444", "strokeWidth": 1}, "encoding": {"detail": {"field": "g"}}},
     {"data": {"name": "bc"}, "transform": [{"filter": "datum.x !== 1"}], "mark": {"type": "point", "shape": "circle", "fill": "white", "stroke": "#1a1a1a", "strokeWidth": 1.7, "size": 50, "opacity": 1, "filled": true}},
     {"data": {"values": [{"x": 0, "y": 80.3, "y2": 124.4}, {"x": 2, "y": 66.3, "y2": 115.9}]}, "mark": {"type": "rule", "strokeWidth": 1.5, "color": "#1a1a1a"}, "encoding": {"y2": {"field": "y2"}}},
     {"data": {"values": [{"x": -0.07, "x2": 0.07, "y": 80.3}, {"x": -0.07, "x2": 0.07, "y": 124.4}, {"x": 1.93, "x2": 2.07, "y": 66.3}, {"x": 1.93, "x2": 2.07, "y": 115.9}]}, "mark": {"type": "rule", "strokeWidth": 1.5, "color": "#1a1a1a"}, "encoding": {"x2": {"field": "x2"}}},
     {"data": {"name": "bm"}, "mark": {"type": "line", "color": "#1a1a1a", "strokeWidth": 3}},
     {"data": {"name": "bm"}, "mark": {"type": "circle", "color": "#1a1a1a", "size": 240, "opacity": 1}},
     {"data": {"values": [{"x": 0, "y": 168.5, "x2": 0, "y2": 172.7}, {"x": 0, "y": 172.7, "x2": 1.03, "y2": 172.7}, {"x": 1.03, "y": 168.5, "x2": 1.03, "y2": 172.7}]}, "mark": {"type": "rule", "strokeWidth": 1.6, "color": "#1a1a1a"}, "encoding": {"x2": {"field": "x2"}, "y2": {"field": "y2"}}},
     {"data": {"values": [{"x": 0.51, "y": 171.5, "s": "*"}]}, "mark": {"type": "text", "fontSize": 30, "fontWeight": "bold", "baseline": "alphabetic", "align": "center"}, "encoding": {"text": {"field": "s"}}},
     {"data": {"values": [{"x": -2.69, "y": 188.7, "s": "B"}]}, "mark": {"type": "text", "fontSize": 28, "fontStyle": "italic", "align": "left", "baseline": "alphabetic"}, "encoding": {"text": {"field": "s"}}}
    ]
   }
  ]
 },
 {
  "bounds": "flush",
  "spacing": 0,
  "hconcat": [
   {
    "width": 296, "height": 206,
    "encoding": {
     "x": {"field": "x", "type": "quantitative", "scale": {"domain": [-5.388, 8.98]}, "axis": {"values": [-4,-2,0,2,4,6,8], "labelExpr": "datum.value < 0 ? '-' + abs(datum.value) : datum.label", "title": "time (min)"}},
     "y": {"field": "y", "type": "quantitative", "scale": {"domain": [-23, 505]}, "axis": {"values": [0,100,200,300,400,500], "title": "effective uIPSC (pA)"}}
    },
    "layer": [
     {"data": {"name": "tc"}, "mark": {"type": "line", "color": "#1a1a1a", "strokeWidth": 1.7}},
     {"data": {"name": "tc"}, "mark": {"type": "circle", "color": "#1a1a1a", "size": 110, "opacity": 1}},
     {"data": {"values": [{"x": -5.11, "x2": 9.19, "y": 446.8}, {"x": 0.01, "x2": 9.19, "y": 469.8}]}, "mark": {"type": "rule", "strokeWidth": 2, "color": "#1a1a1a"}, "encoding": {"x2": {"field": "x2"}}},
     {"data": {"values": [{"x": -2.66, "y": 509.3, "s": "AM251"}, {"x": 4.38, "y": 509.3, "s": "+CCh"}]}, "mark": {"type": "text", "fontSize": 20, "baseline": "middle", "align": "center"}, "encoding": {"text": {"field": "s"}}},
     {"data": {"values": [{"x": -2.01, "y": 250.5, "s": "a"}, {"x": 8.0, "y": 248, "s": "b"}]}, "mark": {"type": "text", "fontSize": 18, "baseline": "middle", "align": "center"}, "encoding": {"text": {"field": "s"}}},
     {"data": {"values": [{"x": -10.0, "y": 545.5, "s": "C"}]}, "mark": {"type": "text", "fontSize": 28, "fontStyle": "italic", "align": "left", "baseline": "alphabetic"}, "encoding": {"text": {"field": "s"}}}
    ]
   },
   {
    "width": 357, "height": 206,
    "encoding": {"x": {"field": "x", "type": "quantitative", "scale": {"domain": [-30.89, 48.44]}, "axis": null}},
    "layer": [
     {"data": {"name": "eM"}, "mark": {"type": "area", "color": "#d4d4d4", "opacity": 1}, "encoding": {"y": {"field": "y", "type": "quantitative", "scale": {"domain": [-343.2, 213.5]}, "axis": null}, "y2": {"field": "y2"}}},
     {"data": {"name": "gM"}, "mark": {"type": "line", "color": "#c0c0c0", "strokeWidth": 1.6}, "encoding": {"y": {"field": "y", "type": "quantitative", "scale": {"domain": [-343.2, 213.5]}, "axis": null}, "detail": {"field": "g"}}},
     {"data": {"name": "kM"}, "mark": {"type": "line", "color": "#1a1a1a", "strokeWidth": 1.9}, "encoding": {"y": {"field": "y", "type": "quantitative", "scale": {"domain": [-343.2, 213.5]}, "axis": null}}},
     {"data": {"values": [{"x": 24.67, "x2": 24.67, "y": -248.6, "y2": -348.6}, {"x": 24.67, "x2": 34.67, "y": -348.6, "y2": -348.6}]}, "mark": {"type": "rule", "strokeWidth": 1.8, "color": "#1a1a1a"}, "encoding": {"y": {"field": "y", "type": "quantitative", "scale": {"domain": [-343.2, 213.5]}, "axis": null}, "x2": {"field": "x2"}, "y2": {"field": "y2"}}},
     {"data": {"values": [{"x": 22.37, "y": -307, "s": "100pA"}]}, "mark": {"type": "text", "fontSize": 17, "angle": 270, "baseline": "middle", "align": "center"}, "encoding": {"y": {"field": "y", "type": "quantitative", "scale": {"domain": [-343.2, 213.5]}, "axis": null}, "text": {"field": "s"}}},
     {"data": {"values": [{"x": 29.55, "y": -389, "s": "10ms"}]}, "mark": {"type": "text", "fontSize": 17, "baseline": "middle", "align": "center"}, "encoding": {"y": {"field": "y", "type": "quantitative", "scale": {"domain": [-343.2, 213.5]}, "axis": null}, "text": {"field": "s"}}},
     {"data": {"name": "apM"}, "mark": {"type": "line", "color": "#1a1a1a", "strokeWidth": 1.7}, "encoding": {"y": {"field": "y", "type": "quantitative", "scale": {"domain": [-325.1, -2.0]}, "axis": null}}},
     {"data": {"values": [{"x": 1.56, "y": 7.5, "s": "a"}, {"x": 20.2, "y": -6.7, "s": "AM251"}]}, "mark": {"type": "text", "fontSize": 20, "baseline": "middle", "align": "center"}, "encoding": {"y": {"field": "y", "type": "quantitative", "scale": {"domain": [-325.1, -2.0]}, "axis": null}, "text": {"field": "s"}}}
    ],
    "resolve": {"scale": {"y": "independent"}}
   },
   {
    "width": 397, "height": 206,
    "encoding": {"x": {"field": "x", "type": "quantitative", "scale": {"domain": [-7.33, 80.89]}, "axis": null}},
    "layer": [
     {"data": {"name": "eP"}, "mark": {"type": "area", "color": "#d4d4d4", "opacity": 1}, "encoding": {"y": {"field": "y", "type": "quantitative", "scale": {"domain": [-343.2, 213.5]}, "axis": null}, "y2": {"field": "y2"}}},
     {"data": {"name": "gP"}, "mark": {"type": "line", "color": "#c0c0c0", "strokeWidth": 1.6}, "encoding": {"y": {"field": "y", "type": "quantitative", "scale": {"domain": [-343.2, 213.5]}, "axis": null}, "detail": {"field": "g"}}},
     {"data": {"name": "kP"}, "mark": {"type": "line", "color": "#1a1a1a", "strokeWidth": 1.9}, "encoding": {"y": {"field": "y", "type": "quantitative", "scale": {"domain": [-343.2, 213.5]}, "axis": null}}},
     {"data": {"name": "apP"}, "mark": {"type": "line", "color": "#1a1a1a", "strokeWidth": 1.7}, "encoding": {"y": {"field": "y", "type": "quantitative", "scale": {"domain": [-325.1, -2.0]}, "axis": null}}},
     {"data": {"values": [{"x": 1.33, "y": 7.5, "s": "b"}, {"x": 19.1, "y": -2.0, "s": "+CCh"}]}, "mark": {"type": "text", "fontSize": 20, "baseline": "middle", "align": "center"}, "encoding": {"y": {"field": "y", "type": "quantitative", "scale": {"domain": [-325.1, -2.0]}, "axis": null}, "text": {"field": "s"}}}
    ],
    "resolve": {"scale": {"y": "independent"}}
   },
   {
    "width": 150, "height": 212,
    "encoding": {
     "x": {"field": "x", "type": "quantitative", "scale": {"domain": [-0.341, 1.21]}, "axis": {"values": [0,1], "ticks": false, "tickSize": 0, "labelPadding": 14, "labelOffset": {"condition": {"test": "datum.value === 0", "value": 8}, "value": -10}, "labelExpr": "datum.value === 0 ? 'AM251' : '+CCh'", "title": null}},
     "y": {"field": "y", "type": "quantitative", "scale": {"domain": [-27.4, 404], "range": [212, 6]}, "axis": {"values": [0,100,200,300,400], "title": "effective uIPSC (pA)"}}
    },
    "layer": [
     {"data": {"name": "dc"}, "mark": {"type": "line", "color": "#444", "strokeWidth": 1}, "encoding": {"detail": {"field": "g"}}},
     {"data": {"name": "dc"}, "mark": {"type": "point", "shape": "circle", "fill": "white", "stroke": "#1a1a1a", "strokeWidth": 1.7, "size": 50, "opacity": 1, "filled": true}},
     {"data": {"values": [{"x": 0, "y": 78, "y2": 197}, {"x": 1, "y": 83, "y2": 181}]}, "mark": {"type": "rule", "strokeWidth": 1.5, "color": "#1a1a1a"}, "encoding": {"y2": {"field": "y2"}}},
     {"data": {"values": [{"x": -0.041, "x2": 0.041, "y": 197}, {"x": 0.959, "x2": 1.041, "y": 181}]}, "mark": {"type": "rule", "strokeWidth": 1.5, "color": "#1a1a1a"}, "encoding": {"x2": {"field": "x2"}}},
     {"data": {"name": "dm"}, "mark": {"type": "line", "color": "#1a1a1a", "strokeWidth": 3}},
     {"data": {"name": "dm"}, "mark": {"type": "circle", "color": "#1a1a1a", "size": 270, "opacity": 1}},
     {"data": {"values": [{"x": 0, "y": 421.4, "x2": 0, "y2": 431.9}, {"x": 0, "y": 431.9, "x2": 1, "y2": 431.9}, {"x": 1, "y": 421.4, "x2": 1, "y2": 431.9}]}, "mark": {"type": "rule", "strokeWidth": 1.6, "color": "#1a1a1a"}, "encoding": {"x2": {"field": "x2"}, "y2": {"field": "y2"}}},
     {"data": {"values": [{"x": 0.5, "y": 452.8, "s": "n.s."}]}, "mark": {"type": "text", "fontSize": 18, "baseline": "middle", "align": "center"}, "encoding": {"text": {"field": "s"}}},
     {"data": {"values": [{"x": -1.675, "y": 450.1, "s": "D"}]}, "mark": {"type": "text", "fontSize": 28, "fontStyle": "italic", "align": "left", "baseline": "alphabetic"}, "encoding": {"text": {"field": "s"}}}
    ]
   }
  ]
 }
]
}
